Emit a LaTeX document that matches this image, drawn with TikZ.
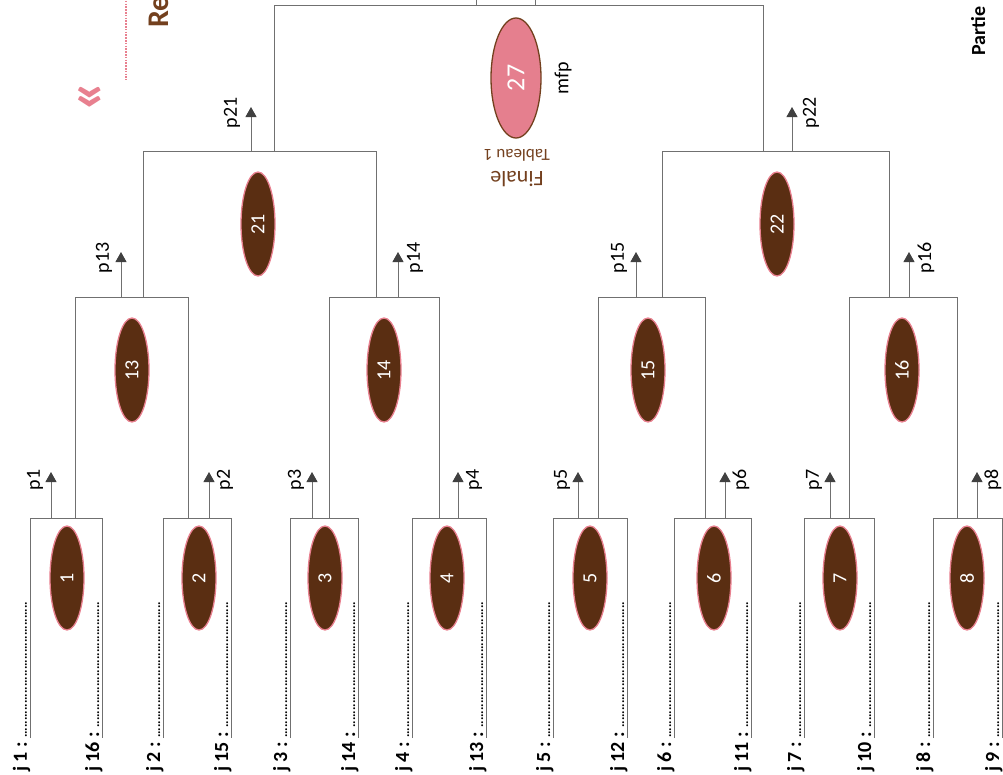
\documentclass[tikz,border=0pt]{standalone}
\usepackage{fontspec}
\setmainfont{Carlito}
\usetikzlibrary{arrows.meta,shapes.geometric}
\definecolor{ln}{HTML}{707070}
\definecolor{arr}{HTML}{404040}
\definecolor{brn}{HTML}{5A2E12}
\definecolor{pnk}{HTML}{E8808F}
\definecolor{fin}{HTML}{E57F8E}
\definecolor{brtxt}{HTML}{73401E}
\newcommand\jrow[1]{\hbox to 172pt{{\bfseries\fontsize{20}{20}\selectfont #1}\hspace{3pt}\bfseries\fontsize{13}{13}\selectfont\leaders\hbox to 3.4pt{\hss.\hss}\hfill}}
\begin{document}
\begin{tikzpicture}[x=1pt,y=-1pt,
  brk/.style={draw=ln,line width=1pt},
  adv/.style={draw=ln,line width=1pt,-{Triangle[width=11pt,length=10pt,color=arr]}},
  match/.style={ellipse,rotate=90,draw=pnk,line width=1.3pt,fill=brn,minimum width=104pt,minimum height=34pt,inner sep=0pt,text=white,font=\fontsize{20}{20}\selectfont},
  plab/.style={rotate=90,inner sep=0pt,font=\fontsize{20}{20}\selectfont},
  jlab/.style={rotate=90,anchor=base west,inner sep=0pt}]
\useasboundingbox (0,0) rectangle (1003,774);

% ---- round 1
\foreach \n/\L/\R/\S/\A/\E/\sd in {1/30/102/75/51/67/-1, 2/163/231/188/209/199/1, 3/290/358/329/312/325/-1, 4/412/486/439/458/447/1, 5/553/627/598/578/590/-1, 6/674/751/705/725/714/1, 7/804/874/849/830/840/-1, 8/933/1002/957/977/967/1}{
  \coordinate (bl\n) at (\L,738);
  \coordinate (tl\n) at (\L,518);
  \coordinate (tr\n) at (\R,518);
  \coordinate (br\n) at (\R,738);
  \coordinate (s\n) at (\S,518);
  \coordinate (a\n) at (\A,518);
  \coordinate (t\n) at (\A,472);
  \draw[brk] (bl\n) -- (tl\n) -- (tr\n) -- (br\n);
  \draw[adv] (a\n) -- (t\n);
  \node[plab] (p\n) at (\A+\sd*16,480) {p\n};
  \node[match] (m\n) at (\E,578) {\n};
  \pgfmathtruncatemacro\mm{17-\n}
  \node[jlab] (jl\n) at (\L-3,772) {\jrow{j \n\ :}};
  \node[jlab] (jr\n) at (\R-3,772) {\jrow{j \mm\ :}};
}

% ---- round 2
\foreach \n/\a/\b/\S/\A/\E/\sd in {13/1/2/143/121/132/-1, 14/3/4/376/398/384/1, 15/5/6/662/636/648/-1, 16/7/8/889/909/902/1}{
  \coordinate (tl\n) at (s\a |- 0,297);
  \coordinate (tr\n) at (s\b |- 0,297);
  \coordinate (s\n) at (\S,297);
  \coordinate (a\n) at (\A,297);
  \coordinate (t\n) at (\A,252);
  \draw[brk] (s\a) -- (tl\n) -- (tr\n) -- (s\b);
  \draw[adv] (a\n) -- (t\n);
  \node[plab] (p\n) at (\A+\sd*17,258) {p\n};
  \node[match] (m\n) at (\E,370) {\n};
}

% ---- round 3
\foreach \n/\a/\b/\S/\A/\E/\sd in {21/13/14/274/251/258/-1, 22/15/16/763/792/777/1}{
  \coordinate (tl\n) at (s\a |- 0,151);
  \coordinate (tr\n) at (s\b |- 0,151);
  \coordinate (s\n) at (\S,151);
  \coordinate (a\n) at (\A,151);
  \coordinate (t\n) at (\A,107);
  \draw[brk] (s\a) -- (tl\n) -- (tr\n) -- (s\b);
  \draw[adv] (a\n) -- (t\n);
  \node[plab] (p\n) at (\A+\sd*19,113) {p\n};
  \node[match] (m\n) at (\E,224) {\n};
}

% ---- final
\coordinate (tl27) at (s21 |- 0,5);
\coordinate (tr27) at (s22 |- 0,5);
\coordinate (ua) at (476,5);
\coordinate (ub) at (535,5);
\coordinate (uat) at (476,-3);
\coordinate (ubt) at (535,-3);
\draw[brk] (s21) -- (tl27) -- (tr27) -- (s22);
\draw[brk] (ua) -- (uat);
\draw[brk] (ub) -- (ubt);
\node[ellipse,rotate=90,draw=brtxt,line width=1.3pt,fill=fin,minimum width=120pt,minimum height=50pt,inner sep=0pt,text=white,font=\fontsize{26}{26}\selectfont] (m27) at (516,78) {27};
\node[plab] (mfp) at (563,78) {mfp};
\node[rotate=180,text=brtxt,inner sep=0pt,font=\fontsize{17}{17}\selectfont] (tab) at (517,155) {Tableau 1};
\node[rotate=180,text=brtxt,inner sep=0pt,font=\fontsize{22}{22}\selectfont] (fina) at (517,179) {Finale};

% ---- top decorations
\coordinate (d1) at (126,-2);
\coordinate (d2) at (126,80);
\draw[pnk,line width=1.8pt,dash pattern=on 1.6pt off 1.2pt] (d1) -- (d2);
\node[rotate=90,text=pnk,inner sep=0pt,font=\bfseries\fontsize{58}{58}\selectfont] (chev) at (91,96) {«};
\node[rotate=90,anchor=base west,inner sep=0pt,text=brtxt,font=\bfseries\fontsize{30}{30}\selectfont] (re) at (168,28) {Re};
\node[rotate=90,anchor=base west,inner sep=0pt,font=\bfseries\fontsize{20}{20}\selectfont] (partie) at (985,56) {Partie};
\end{tikzpicture}
\end{document}
